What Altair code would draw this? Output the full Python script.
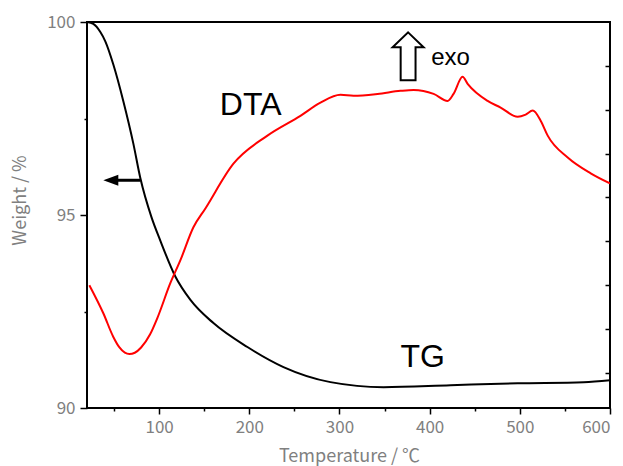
import altair as alt
import pandas as pd

# TG curve (weight %, left axis)
tg_temp = [20, 27, 34.8, 40.3, 49.2, 60.3, 71.4, 79.2, 91.4, 101.4, 118.1, 134.7, 160.2,
           197.9, 237.9, 290.0, 348.9, 423.2, 497.6, 570.9, 600]
tg_weight = [100.0, 99.95, 99.74, 99.5, 98.9, 97.95, 96.85, 95.95, 94.95, 94.33, 93.40, 92.80,
             92.20, 91.58, 91.06, 90.67, 90.54, 90.59, 90.64, 90.67, 90.72]

# DTA curve (arbitrary units, right axis)
dta_temp = [22.6, 38.1, 49.2, 56.0, 62.0, 67.0, 73.0, 80.0, 90.0, 98.0, 112.5, 123.6, 138.0,
            151.3, 182.4, 220.1, 256.7, 278.9, 301.1, 315.6, 342.2, 367.7, 382.2, 404.4, 419.9,
            426.5, 436.5, 442.1, 464.3, 478.7, 497.6, 506.5, 514.3, 523.1, 530.9, 553.1, 578.6, 600]
dta_signal = [3.00, 2.36, 1.82, 1.58, 1.46, 1.43, 1.46, 1.58, 1.88, 2.25, 3.05, 3.57, 4.32,
              4.75, 5.77, 6.41, 6.86, 7.16, 7.34, 7.32, 7.36, 7.43, 7.45, 7.36, 7.20,
              7.36, 7.75, 7.59, 7.20, 7.05, 6.84, 6.89, 6.98, 6.75, 6.41, 5.91, 5.55, 5.32]

# annotations (placed in temperature / weight units)
ann_text = ["DTA", "TG", "exo"]
ann_temp = [201.5, 392.2, 423.2]
ann_weight = [97.58, 91.06, 98.88]
ann_size = [32, 32, 24]

x_ticks = [50, 100, 150, 200, 250, 300, 350, 400, 450, 500, 550, 600]
y_ticks = [90, 92.5, 95, 97.5, 100]
dta_ticks = [1, 2, 3, 4, 5, 6, 7, 8]

tg_df = pd.DataFrame({"temp": tg_temp, "weight": tg_weight})
dta_df = pd.DataFrame({"temp": dta_temp, "dta": dta_signal})
ann_df = pd.DataFrame({"text": ann_text, "temp": ann_temp, "weight": ann_weight, "fs": ann_size})
left_arrow_df = pd.DataFrame({"t1": [46.4], "t2": [79.2], "weight": [95.90]})
exo_arrow_df = pd.DataFrame({"temp": [376.1], "weight": [99.11]})

FONT = "Noto Sans CJK JP"
GREY = "#808080"

x_scale = alt.Scale(domain=[20, 600], nice=False, zero=False)
y_scale = alt.Scale(domain=[90, 100], nice=False, zero=False)

x_axis = alt.Axis(
    values=x_ticks, format="d",
    labelExpr="datum.value % 100 === 0 ? datum.label : ''",
    tickSize={"condition": {"test": "datum.value % 100 === 0", "value": 6}, "value": 3},
    title="Temperature / ℃", titleX=262, titleY=53, titleBaseline="alphabetic",
    titleAlign="center", grid=False, domain=False, labelPadding=5,
)
y_axis = alt.Axis(
    values=y_ticks,
    labelExpr="datum.value % 5 === 0 ? format(datum.value, 'd') : ''",
    tickSize={"condition": {"test": "datum.value % 5 === 0", "value": 7}, "value": 3},
    title="Weight / %", titleX=-67, titleY=178, titleBaseline="middle", titleAlign="center",
    titleAngle=270, grid=False, domain=False, labelPadding=5,
)

base_x = alt.X("temp:Q", scale=x_scale, axis=x_axis)

tg_line = alt.Chart(tg_df).mark_line(color="black", strokeWidth=2, interpolate="monotone", clip=True).encode(
    x=base_x,
    y=alt.Y("weight:Q", scale=y_scale, axis=y_axis),
)

texts = alt.Chart(ann_df).mark_text(font="Liberation Sans", color="black", baseline="alphabetic",
                                    align="center").encode(
    x=alt.X("temp:Q", scale=x_scale),
    y=alt.Y("weight:Q", scale=y_scale),
    text="text:N",
    size=alt.Size("fs:Q", scale=None, legend=None),
)

arrow_shaft = alt.Chart(left_arrow_df).mark_rule(color="black", strokeWidth=3).encode(
    x=alt.X("t1:Q", scale=x_scale),
    x2="t2:Q",
    y=alt.Y("weight:Q", scale=y_scale),
)
arrow_head = alt.Chart(left_arrow_df).mark_point(
    shape="M -1 0 L 1 -0.73 L 1 0.73 Z", filled=True, color="black", size=225, opacity=1
).encode(
    x=alt.X("t1:Q", scale=x_scale),
    y=alt.Y("weight:Q", scale=y_scale),
)
exo_arrow = alt.Chart(exo_arrow_df).mark_point(
    shape="M 0 -1 L 0.646 -0.375 L 0.31 -0.375 L 0.31 1 L -0.31 1 L -0.31 -0.375 L -0.646 -0.375 Z",
    filled=False, color="black", strokeWidth=2, size=2304, opacity=1
).encode(
    x=alt.X("temp:Q", scale=x_scale),
    y=alt.Y("weight:Q", scale=y_scale),
)

tg_layer = alt.layer(tg_line, texts, arrow_shaft, arrow_head, exo_arrow)

dta_line = alt.Chart(dta_df).mark_line(color="#ff0000", strokeWidth=2, interpolate="monotone", clip=True).encode(
    x=alt.X("temp:Q", scale=x_scale),
    y=alt.Y("dta:Q", scale=alt.Scale(domain=[0.2, 9.0], nice=False, zero=False),
            axis=alt.Axis(orient="right", values=dta_ticks, labels=False, title=None, domain=False,
                          grid=False, tickSize=5, offset=-5)),
)

chart = alt.layer(tg_layer, dta_line).resolve_scale(y="independent").properties(
    width=523, height=386,
    padding={"left": 87, "top": 22, "right": 13, "bottom": 58},
    autosize=alt.AutoSizeParams(type="none"),
    background="white",
).configure_view(
    stroke="black", strokeWidth=2
).configure_axis(
    labelFont=FONT, labelFontSize=17, labelColor=GREY,
    titleFont=FONT, titleFontSize=18, titleColor=GREY, titleFontWeight="normal",
    tickColor="black", tickWidth=1.5,
)

chart.save("out.html", embed_options={"renderer": "svg", "actions": False})
